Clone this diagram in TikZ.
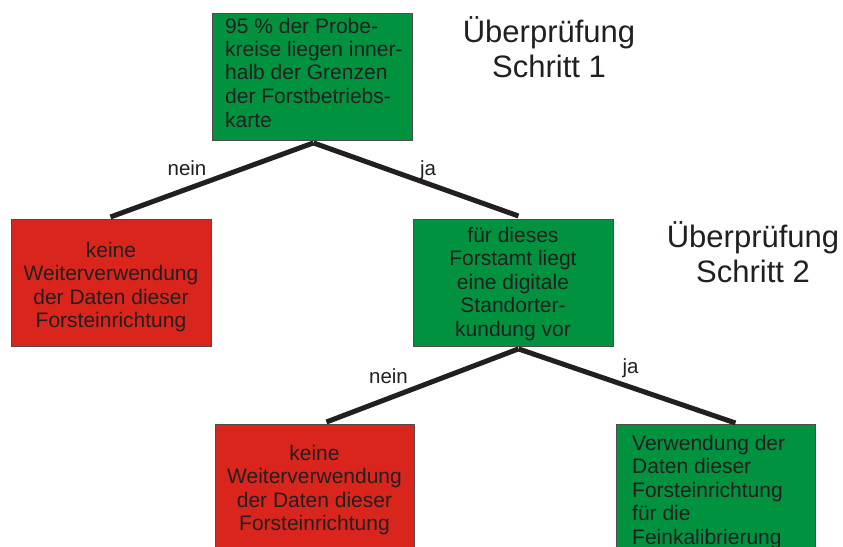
\documentclass[tikz,border=0pt]{standalone}
\usepackage{fontspec}
\setmainfont{Liberation Sans}
\definecolor{boxgreen}{RGB}{0,146,63}
\definecolor{boxred}{RGB}{218,37,29}
\definecolor{ink}{RGB}{35,31,32}
\newcommand{\boxtext}[1]{\begin{tabular}[t]{@{}c@{}}#1\end{tabular}}
\newcommand{\boxtextl}[1]{\begin{tabular}[t]{@{}l@{}}#1\end{tabular}}
\begin{document}
\begin{tikzpicture}[x=1pt,y=-1pt,
  panel/.style={draw=ink!80, line width=0.9pt, rectangle, inner sep=0pt, anchor=north west},
  greenbox/.style={panel, fill=boxgreen},
  redbox/.style={panel, fill=boxred},
  boxfont/.style={text=ink, inner sep=0pt, font=\fontsize{21}{23.5}\selectfont},
  headfont/.style={text=ink, inner sep=0pt, font=\fontsize{31}{35.5}\selectfont},
  lblfont/.style={text=ink, inner sep=0pt, anchor=base, font=\fontsize{20.5}{24}\selectfont},
  branch/.style={draw=ink, line width=5pt}
]
\useasboundingbox (0,0) rectangle (843,546);
\fill[white] (0,0) rectangle (843,546);

% boxes
\node[greenbox, minimum width=200pt, minimum height=127pt] (b1) at (212,13) {};
\node[redbox,   minimum width=200pt, minimum height=127pt] (b2) at (11,219) {};
\node[greenbox, minimum width=200pt, minimum height=127pt] (b3) at (413,219) {};
\node[redbox,   minimum width=199pt, minimum height=140pt] (b4) at (215,424) {};
\node[greenbox, minimum width=199pt, minimum height=140pt] (b5) at (616,424) {};

% box texts
\node[boxfont, anchor=base west] (t1) at (225,33)
  {\boxtextl{95 \% der Probe-\\kreise liegen inner-\\halb der Grenzen\\der Forstbetriebs-\\karte}};
\node[boxfont, anchor=base] (t2) at (111,257)
  {\boxtext{keine\\Weiterverwendung\\der Daten dieser\\Forsteinrichtung}};
\node[boxfont, anchor=base] (t3) at (513,242)
  {\boxtext{für dieses\\Forstamt liegt\\eine digitale\\Standorter-\\kundung vor}};
\node[boxfont, anchor=base] (t4) at (314.5,460)
  {\boxtext{keine\\Weiterverwendung\\der Daten dieser\\Forsteinrichtung}};
\node[boxfont, anchor=base west] (t5) at (632,450)
  {\boxtextl{Verwendung der\\Daten dieser\\Forsteinrichtung\\für die\\Feinkalibrierung}};

% headings
\node[headfont, anchor=base] (h1) at (549,42) {\boxtext{Überprüfung\\Schritt 1}};
\node[headfont, anchor=base] (h2) at (753,247) {\boxtext{Überprüfung\\Schritt 2}};

% connectors
\draw[branch] ([shift={(1,2)}]b1.south) -- ([shift={(-1,-2)}]b2.north);
\draw[branch] ([shift={(1,2)}]b1.south) -- ([shift={(5,-3)}]b3.north);
\draw[branch] ([shift={(5,2)}]b3.south) -- ([shift={(11.5,-2)}]b4.north);
\draw[branch] ([shift={(5,2)}]b3.south) -- ([shift={(19.5,-1)}]b5.north);

% labels
\node[lblfont] (l1) at (187,175) {nein};
\node[lblfont] (l2) at (428,175) {ja};
\node[lblfont] (l3) at (388.5,383) {nein};
\node[lblfont] (l4) at (630.5,373) {ja};
\end{tikzpicture}
\end{document}
